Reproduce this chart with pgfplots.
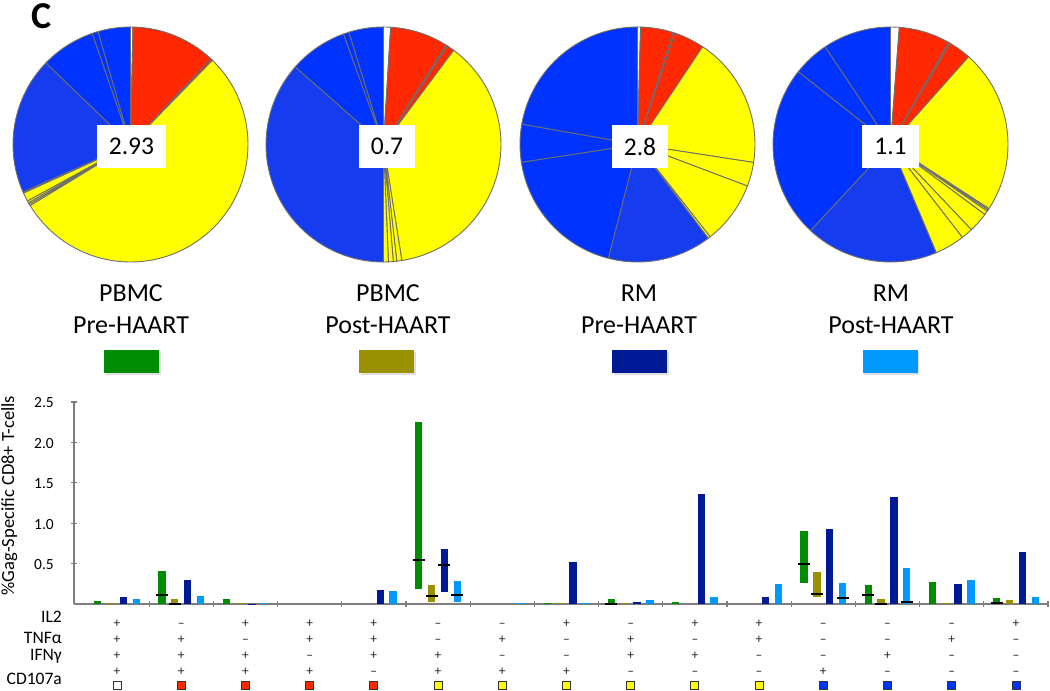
\documentclass[border=0pt]{standalone}
\usepackage{fontspec}
\setmainfont{Carlito}
\usepackage{pgfplots}
\usepackage{pgfplotstable}
\pgfplotsset{compat=1.18}
\usetikzlibrary{shadows}

\definecolor{cGreen}{RGB}{0,140,0}
\definecolor{cOlive}{RGB}{153,145,0}
\definecolor{cNavy}{RGB}{0,26,150}
\definecolor{cLight}{RGB}{0,153,255}
\definecolor{pRed}{RGB}{255,40,0}
\definecolor{pYellow}{RGB}{255,255,0}
\definecolor{pBlue}{RGB}{0,51,255}
\definecolor{pBlueB}{RGB}{22,60,240}
\definecolor{pieline}{RGB}{110,110,110}
\definecolor{axisgray}{RGB}{125,125,125}

\newcommand{\tickfont}{\fontsize{15.5}{18}\selectfont}
\newcommand{\rowfont}{\fontsize{17.5}{20}\selectfont}
\newcommand{\signfont}{\fontsize{13.5}{15}\selectfont}
\newcommand{\labfont}{\fontsize{26}{31}\selectfont}
\newcommand{\numfont}{\fontsize{25.5}{30}\selectfont}

% pie slices: start angle, end angle (degrees clockwise from 12 o'clock), colour
\newcommand{\pieR}{117.5pt}
\newcommand{\pieslice}[3]{\filldraw[fill=#3, draw=pieline, line width=0.9pt]
  (axis cs:0,0) -- ++({90-#1}:\pieR) arc[start angle={90-#1}, end angle={90-#2}, radius=\pieR] -- cycle;}

\pgfplotsset{pie/.style={hide axis, scale only axis, width=235pt, height=235pt,
  xmin=-1, xmax=1, ymin=-1, ymax=1, anchor=center, clip=false}}

% x = category, lo/hi = range of the bar
\pgfplotstableread{
x lo hi
0 0 0.037
1 0 0.41
2 0 0.062
3 0 0
4 0 0
5 0.18 2.25
6 0 0
7 0 0.01
8 0 0.058
9 0 0.02
10 0 0
11 0.26 0.90
12 0 0.235
13 0 0.27
14 0 0.07
}\pbmcpre
\pgfplotstableread{
x lo hi
0 0 0.01
1 0 0.062
2 0 0.01
3 0 0
4 0 0
5 0.02 0.235
6 0 0
7 0 0.01
8 0 0.01
9 0 0
10 0 0
11 0.087 0.40
12 0 0.058
13 0 0.01
14 0 0.045
}\pbmcpost
\pgfplotstableread{
x lo hi
0 0 0.083
1 0 0.30
2 0 0.005
3 0 0
4 0 0.173
5 0.15 0.68
6 0 0
7 0 0.52
8 0 0.02
9 0 1.357
10 0 0.083
11 0 0.93
12 0 1.32
13 0 0.25
14 0 0.64
}\rmpre
\pgfplotstableread{
x lo hi
0 0 0.062
1 0 0.10
2 0 0.015
3 0 0
4 0 0.16
5 0.02 0.285
6 0 0.01
7 0 0.01
8 0 0.05
9 0 0.083
10 0 0.25
11 0 0.265
12 0 0.45
13 0 0.30
14 0 0.083
}\rmpost

\pgfplotsset{rangebar/.style={draw=none, mark=none,
  error bars/.cd, y dir=plus, y explicit, error mark=none,
  error bar style={draw=#1, line width=7.3pt, line cap=butt}}}

\begin{document}
\begin{tikzpicture}
\path[use as bounding box] (0,0) rectangle (1050pt,691pt);

% ---- pies ----
\begin{axis}[pie, at={(130.5pt,546.5pt)}]
\pieslice{0}{1.2}{white}
\pieslice{1.2}{43.2}{pRed}
\pieslice{43.2}{44.2}{pRed}
\pieslice{44.2}{238.7}{pYellow}
\pieslice{238.7}{239.5}{pYellow}
\pieslice{239.5}{240.3}{pYellow}
\pieslice{240.3}{241.3}{pYellow}
\pieslice{241.3}{245.6}{pYellow}
\pieslice{245.6}{246.2}{pYellow}
\pieslice{246.2}{314}{pBlueB}
\pieslice{314}{341}{pBlue}
\pieslice{341}{344}{pBlue}
\pieslice{344}{360}{pBlue}
\end{axis}

\begin{axis}[pie, at={(383.5pt,546.5pt)}]
\pieslice{0}{3.5}{white}
\pieslice{3.5}{32.2}{pRed}
\pieslice{32.2}{33.0}{pRed}
\pieslice{33.0}{36.7}{pRed}
\pieslice{36.7}{171}{pYellow}
\pieslice{171}{173.5}{pYellow}
\pieslice{173.5}{175.2}{pYellow}
\pieslice{175.2}{177.6}{pYellow}
\pieslice{177.6}{180}{pYellow}
\pieslice{180}{311.3}{pBlueB}
\pieslice{311.3}{340.1}{pBlue}
\pieslice{340.1}{342.9}{pBlue}
\pieslice{342.9}{360}{pBlue}
\end{axis}

\begin{axis}[pie, at={(637.5pt,546.5pt)}]
\pieslice{0}{1.5}{white}
\pieslice{1.5}{17.6}{pRed}
\pieslice{17.6}{18.6}{pRed}
\pieslice{18.6}{33.7}{pRed}
\pieslice{33.7}{98.8}{pYellow}
\pieslice{98.8}{110.7}{pYellow}
\pieslice{110.7}{141.8}{pYellow}
\pieslice{141.8}{143}{pYellow}
\pieslice{143}{194.4}{pBlueB}
\pieslice{194.4}{261.3}{pBlue}
\pieslice{261.3}{280}{pBlue}
\pieslice{280}{360}{pBlue}
\end{axis}

\begin{axis}[pie, at={(890.5pt,546.5pt)}]
\pieslice{0}{4.3}{white}
\pieslice{4.3}{29.7}{pRed}
\pieslice{29.7}{30.5}{pRed}
\pieslice{30.5}{41.7}{pRed}
\pieslice{41.7}{123.1}{pYellow}
\pieslice{123.1}{123.8}{pYellow}
\pieslice{123.8}{124.6}{pYellow}
\pieslice{124.6}{126.6}{pYellow}
\pieslice{126.6}{136.5}{pYellow}
\pieslice{136.5}{142.3}{pYellow}
\pieslice{142.3}{157.1}{pYellow}
\pieslice{157.1}{222.9}{pBlueB}
\pieslice{222.9}{308.3}{pBlue}
\pieslice{308.3}{326.2}{pBlue}
\pieslice{326.2}{360}{pBlue}
\end{axis}

% totals in the pies
\begin{scope}[every node/.style={fill=white, inner xsep=12pt, inner ysep=0pt, minimum height=43pt, font=\numfont}]
\node at (131.5pt,544.5pt) {2.93};
\node at (387pt,544.5pt) {0.7};
\node at (640pt,544.5pt) {2.8};
\node at (890.5pt,544.5pt) {1.1};
\end{scope}

\node[font=\fontsize{38}{44}\selectfont\bfseries, inner sep=0pt] at (42pt,675pt) {C};

% group labels
\begin{scope}[every node/.style={anchor=base, font=\labfont, inner sep=0pt}]
\node at (131pt,389.3pt) {PBMC};
\node at (131pt,357.7pt) {Pre-HAART};
\node at (388pt,389.3pt) {PBMC};
\node at (388pt,357.7pt) {Post-HAART};
\node at (639pt,389.3pt) {RM};
\node at (639pt,357.7pt) {Pre-HAART};
\node at (891pt,389.3pt) {RM};
\node at (891pt,357.7pt) {Post-HAART};
\end{scope}

% colour keys
\begin{scope}[every node/.style={minimum width=55pt, minimum height=23pt, inner sep=0pt,
  drop shadow={shadow xshift=1.5pt, shadow yshift=-1.5pt, opacity=0.25}}]
\node[fill=cGreen] at (131.7pt,329.3pt) {};
\node[fill=cOlive] at (386.7pt,329.3pt) {};
\node[fill=cNavy] at (639.8pt,329.3pt) {};
\node[fill=cLight] at (890.2pt,329.3pt) {};
\end{scope}

% ---- bar chart ----
\begin{axis}[
  at={(74pt,87pt)}, anchor=south west,
  scale only axis, width=974pt, height=202pt,
  xmin=-0.67, xmax=14.5, ymin=0, ymax=2.5,
  axis x line=bottom, axis y line=left,
  axis line style={-, draw=axisgray, line width=1.3pt},
  xtick={0.5,1.5,...,14.5}, xticklabels={},
  ytick={0.5,1,1.5,2,2.5}, yticklabels={},
  tick align=center, major tick length=6pt,
  tick style={draw=axisgray, line width=1.2pt},
  ylabel={\%Gag-Specific CD8+ T-cells},
  every axis y label/.style={at={(rel axis cs:-0.0665,0.537)}, anchor=center,
    rotate=90, font=\fontsize{18.5}{21}\selectfont},
  clip=false,
]
\addplot[rangebar=cGreen] table[x expr=\thisrow{x}-0.3, y=lo, y error plus expr=\thisrow{hi}-\thisrow{lo}] {\pbmcpre};
\addplot[rangebar=cOlive] table[x expr=\thisrow{x}-0.1, y=lo, y error plus expr=\thisrow{hi}-\thisrow{lo}] {\pbmcpost};
\addplot[rangebar=cNavy] table[x expr=\thisrow{x}+0.1, y=lo, y error plus expr=\thisrow{hi}-\thisrow{lo}] {\rmpre};
\addplot[rangebar=cLight] table[x expr=\thisrow{x}+0.3, y=lo, y error plus expr=\thisrow{hi}-\thisrow{lo}] {\rmpost};

% medians
\addplot[only marks, mark=-, mark size=6pt, mark options={draw=black, line width=2pt}]
  coordinates {(0.7,0.11) (4.7,0.54) (7.7,0.005) (10.7,0.50) (11.7,0.11) (13.7,0.01)
               (0.9,0.005) (4.9,0.10) (10.9,0.124) (11.9,0.005)
               (5.1,0.48)
               (5.3,0.11) (11.3,0.07) (12.3,0.03)};

% y tick labels, set in the text font
\begin{scope}[every node/.style={anchor=east, inner sep=0pt, xshift=-20pt, yshift=-1pt, font=\tickfont}]
\node at (axis cs:-0.67,0.5) {0.5};
\node at (axis cs:-0.67,1.0) {1.0};
\node at (axis cs:-0.67,1.5) {1.5};
\node at (axis cs:-0.67,2.0) {2.0};
\node at (axis cs:-0.67,2.5) {2.5};
\end{scope}

% function table
\node[anchor=base east, font=\rowfont, inner sep=0pt] at (axis cs:-0.857,-0.232) {IL2};
\node[anchor=base east, font=\rowfont, inner sep=0pt] at (axis cs:-0.857,-0.495) {TNFα};
\node[anchor=base east, font=\rowfont, inner sep=0pt] at (axis cs:-0.857,-0.702) {IFNγ};
\node[anchor=base east, font=\rowfont, inner sep=0pt] at (axis cs:-0.857,-1.0) {CD107a};

\addplot[only marks, mark=text, text mark={\vphantom{+}+}, text mark as node=true,
  text mark style={font=\signfont, text=black!85}]
  coordinates {(0,-0.244) (2,-0.244) (3,-0.244) (4,-0.244) (7,-0.244) (9,-0.244) (10,-0.244) (14,-0.244)
               (0,-0.446) (1,-0.446) (3,-0.446) (4,-0.446) (6,-0.446) (8,-0.446) (10,-0.446) (13,-0.446)
               (0,-0.640) (1,-0.640) (2,-0.640) (4,-0.640) (5,-0.640) (8,-0.640) (9,-0.640) (12,-0.640)
               (0,-0.838) (1,-0.838) (2,-0.838) (3,-0.838) (5,-0.838) (6,-0.838) (7,-0.838) (11,-0.838)};
\addplot[only marks, mark=text, text mark={\vphantom{+}–}, text mark as node=true,
  text mark style={font=\signfont, text=black!85}]
  coordinates {(1,-0.244) (5,-0.244) (6,-0.244) (8,-0.244) (11,-0.244) (12,-0.244) (13,-0.244)
               (2,-0.446) (5,-0.446) (7,-0.446) (9,-0.446) (11,-0.446) (12,-0.446) (14,-0.446)
               (3,-0.640) (6,-0.640) (7,-0.640) (10,-0.640) (11,-0.640) (13,-0.640) (14,-0.640)
               (4,-0.838) (8,-0.838) (9,-0.838) (10,-0.838) (12,-0.838) (13,-0.838) (14,-0.838)};

\addplot[only marks, mark=square*, mark size=4pt, mark options={fill=white, draw=black!80, line width=0.8pt}]
  coordinates {(0,-1.011)};
\addplot[only marks, mark=square*, mark size=4pt, mark options={fill=pRed, draw=black!80, line width=0.8pt}]
  coordinates {(1,-1.011) (2,-1.011) (3,-1.011) (4,-1.011)};
\addplot[only marks, mark=square*, mark size=4pt, mark options={fill=pYellow, draw=black!80, line width=0.8pt}]
  coordinates {(5,-1.011) (6,-1.011) (7,-1.011) (8,-1.011) (9,-1.011) (10,-1.011)};
\addplot[only marks, mark=square*, mark size=4pt, mark options={fill=pBlue, draw=black!80, line width=0.8pt}]
  coordinates {(11,-1.011) (12,-1.011) (13,-1.011) (14,-1.011)};
\end{axis}
\end{tikzpicture}
\end{document}
